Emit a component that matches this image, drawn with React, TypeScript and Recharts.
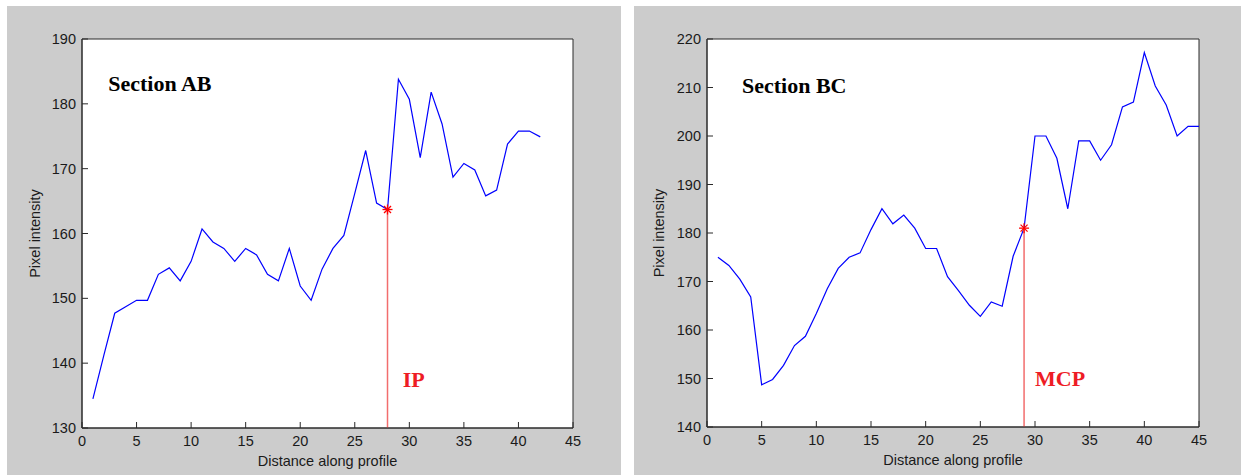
import React from 'react';
import { LineChart, Line, XAxis, YAxis, ReferenceDot, ReferenceArea, CartesianGrid } from 'recharts';

// ---- data -------------------------------------------------------------
const abDistance = [
  1, 2, 3, 4, 5, 6, 7, 8, 9, 10, 11, 12, 13, 14, 15, 16, 17, 18, 19, 20, 21,
  22, 23, 24, 25, 26, 27, 28, 29, 30, 31, 32, 33, 34, 35, 36, 37, 38, 39, 40, 41, 42,
];
const abIntensity = [
  134.5, 141.2, 147.7, 148.7, 149.7, 149.7, 153.7, 154.7, 152.7, 155.7, 160.7,
  158.7, 157.7, 155.7, 157.7, 156.7, 153.7, 152.7, 157.7, 151.9, 149.7, 154.5,
  157.7, 159.7, 166.2, 172.8, 164.7, 163.7, 183.8, 180.7, 171.7, 181.8, 176.9,
  168.7, 170.8, 169.8, 165.8, 166.7, 173.8, 175.8, 175.8, 174.9,
];

const bcDistance = [
  1, 2, 3, 4, 5, 6, 7, 8, 9, 10, 11, 12, 13, 14, 15, 16, 17, 18, 19, 20, 21,
  22, 23, 24, 25, 26, 27, 28, 29, 30, 31, 32, 33, 34, 35, 36, 37, 38, 39, 40,
  41, 42, 43, 44, 45,
];
const bcIntensity = [
  175.0, 173.3, 170.5, 166.8, 148.7, 149.8, 152.7, 156.8, 158.7, 163.4, 168.5,
  172.7, 175.0, 175.9, 180.7, 185.0, 181.9, 183.7, 181.0, 176.8, 176.8, 171.0,
  168.1, 165.1, 162.8, 165.8, 164.9, 175.2, 181.0, 200.0, 200.0, 195.4, 185.0,
  199.0, 199.0, 195.0, 198.2, 206.0, 207.0, 217.2, 210.3, 206.4, 200.0, 202.0, 202.0,
];

const xTicks = [0, 5, 10, 15, 20, 25, 30, 35, 40, 45];
const abYTicks = [130, 140, 150, 160, 170, 180, 190];
const bcYTicks = [140, 150, 160, 170, 180, 190, 200, 210, 220];

const xTitle = 'Distance along profile';
const yTitle = 'Pixel intensity';

// ---- styling ----------------------------------------------------------
const SANS = "'Liberation Sans', Arial, sans-serif";
const SERIF = "'Liberation Serif', 'Times New Roman', serif";
const AXIS = '#2a2a2a';
const TEXT = '#1a1a1a';
const TICK_LEN = 6;
const FONT = 14.5;

const BottomTick = ({ x, y, payload }: any) => (
  <g>
    <line x1={x} y1={y} x2={x} y2={y - TICK_LEN} stroke={AXIS} />
    <text x={x} y={y + 18} textAnchor="middle" fontFamily={SANS} fontSize={FONT} fill={TEXT}>
      {payload.value}
    </text>
  </g>
);

const TopTick = ({ x, y }: any) => (
  <line x1={x} y1={y} x2={x} y2={y + TICK_LEN} stroke={AXIS} />
);

const LeftTick = ({ x, y, payload }: any) => (
  <g>
    <line x1={x} y1={y} x2={x + TICK_LEN} y2={y} stroke={AXIS} />
    <text x={x - 6} y={y + 5} textAnchor="end" fontFamily={SANS} fontSize={FONT} fill={TEXT}>
      {payload.value}
    </text>
  </g>
);

const RightTick = ({ x, y }: any) => (
  <line x1={x} y1={y} x2={x - TICK_LEN} y2={y} stroke={AXIS} />
);

// MATLAB-style '*' marker
const Asterisk = ({ cx, cy }: { cx: number; cy: number }) => (
  <g stroke="#ff0000" strokeWidth={1.3}>
    <line x1={cx - 5} y1={cy} x2={cx + 5} y2={cy} />
    <line x1={cx} y1={cy - 5} x2={cx} y2={cy + 5} />
    <line x1={cx - 3.5} y1={cy - 3.5} x2={cx + 3.5} y2={cy + 3.5} />
    <line x1={cx - 3.5} y1={cy + 3.5} x2={cx + 3.5} y2={cy - 3.5} />
  </g>
);

type PanelProps = {
  left: number;
  width: number;
  yAxisWidth: number;
  rightMargin: number;
  xAxisHeight: number;
  yTitleX: number;
  distance: number[];
  intensity: number[];
  yDomain: [number, number];
  yTicks: number[];
  markAt: number;
  title: string;
  titleAt: [number, number];
  markLabel: string;
  markLabelAt: [number, number];
};

function ProfilePanel(p: PanelProps) {
  const rows = p.distance.map((d, i) => ({ d, v: p.intensity[i] }));
  const markValue = p.intensity[p.distance.indexOf(p.markAt)];
  const stem = [
    { d: p.markAt, v: p.yDomain[0] },
    { d: p.markAt, v: markValue },
  ];
  const height = 469;

  return (
    <div
      style={{
        position: 'absolute',
        left: p.left,
        top: 6,
        width: p.width,
        height,
        background: '#cccccc',
      }}
    >
      <LineChart
        width={p.width}
        height={height}
        data={rows}
        margin={{ top: 33, right: p.rightMargin, bottom: 0, left: 0 }}
      >
        {/* white axes area */}
        <CartesianGrid horizontal={false} vertical={false} fill="#ffffff" fillOpacity={1} />
        <XAxis
          dataKey="d"
          type="number"
          domain={[0, 45]}
          ticks={xTicks}
          interval={0}
          height={p.xAxisHeight}
          tickSize={0}
          tickMargin={0}
          tickLine={false}
          axisLine={{ stroke: AXIS }}
          tick={(t: any) => <BottomTick {...t} />}
          label={{
            content: (l: any) => {
              const vb = l.viewBox || {};
              return (
                <text
                  x={vb.x + vb.width / 2}
                  y={vb.y + 38}
                  textAnchor="middle"
                  fontFamily={SANS}
                  fontSize={FONT}
                  fill={TEXT}
                >
                  {xTitle}
                </text>
              );
            },
          }}
        />
        <XAxis
          xAxisId="top"
          orientation="top"
          dataKey="d"
          type="number"
          domain={[0, 45]}
          ticks={xTicks}
          interval={0}
          height={0}
          tickSize={0}
          tickMargin={0}
          tickLine={false}
          axisLine={false}
          tick={(t: any) => <TopTick {...t} />}
        />
        <YAxis
          type="number"
          domain={p.yDomain}
          ticks={p.yTicks}
          interval={0}
          width={p.yAxisWidth}
          tickSize={0}
          tickMargin={0}
          tickLine={false}
          axisLine={{ stroke: AXIS }}
          tick={(t: any) => <LeftTick {...t} />}
          label={{
            content: (l: any) => {
              const vb = l.viewBox || {};
              const cy = vb.y + vb.height / 2;
              return (
                <text
                  x={p.yTitleX}
                  y={cy}
                  transform={`rotate(-90, ${p.yTitleX}, ${cy})`}
                  textAnchor="middle"
                  fontFamily={SANS}
                  fontSize={FONT}
                  fill={TEXT}
                >
                  {yTitle}
                </text>
              );
            },
          }}
        />
        <YAxis
          yAxisId="right"
          orientation="right"
          type="number"
          domain={p.yDomain}
          ticks={p.yTicks}
          interval={0}
          width={0}
          tickSize={0}
          tickMargin={0}
          tickLine={false}
          axisLine={false}
          tick={(t: any) => <RightTick {...t} />}
        />
        {/* axes box */}
        <ReferenceArea
          x1={0}
          x2={45}
          y1={p.yDomain[0]}
          y2={p.yDomain[1]}
          fill="none"
          fillOpacity={0}
          stroke={AXIS}
          strokeWidth={1}
          ifOverflow="visible"
        />
        <Line
          dataKey="v"
          stroke="#0000ff"
          strokeWidth={1.2}
          dot={false}
          activeDot={false}
          isAnimationActive={false}
        />
        <Line
          data={stem}
          dataKey="v"
          stroke="#f26d6d"
          strokeWidth={1.5}
          isAnimationActive={false}
          activeDot={false}
          dot={(d: any) =>
            d.index === 1 ? (
              <Asterisk key={`mk-${d.index}`} cx={d.cx} cy={d.cy} />
            ) : (
              <g key={`mk-${d.index}`} />
            )
          }
        />
        <ReferenceDot
          x={p.titleAt[0]}
          y={p.titleAt[1]}
          r={0}
          ifOverflow="visible"
          shape={(s: any) => (
            <text
              x={s.cx}
              y={s.cy}
              fontFamily={SERIF}
              fontWeight="bold"
              fontSize={22}
              fill="#000000"
            >
              {p.title}
            </text>
          )}
        />
        <ReferenceDot
          x={p.markLabelAt[0]}
          y={p.markLabelAt[1]}
          r={0}
          ifOverflow="visible"
          shape={(s: any) => (
            <text
              x={s.cx}
              y={s.cy}
              fontFamily={SERIF}
              fontWeight="bold"
              fontSize={22}
              fill="#ee1c25"
            >
              {p.markLabel}
            </text>
          )}
        />
      </LineChart>
    </div>
  );
}

export default function App() {
  return (
    <div
      style={{
        position: 'absolute',
        left: 0,
        top: 0,
        width: 1241,
        height: 475,
        background: '#ffffff',
        overflow: 'hidden',
      }}
    >
      <ProfilePanel
        left={7}
        width={614}
        yAxisWidth={75}
        rightMargin={48}
        xAxisHeight={47}
        yTitleX={32.5}
        distance={abDistance}
        intensity={abIntensity}
        yDomain={[130, 190]}
        yTicks={abYTicks}
        markAt={28}
        title="Section AB"
        titleAt={[2.4, 182.0]}
        markLabel="IP"
        markLabelAt={[29.4, 136.4]}
      />
      <ProfilePanel
        left={634}
        width={607}
        yAxisWidth={73}
        rightMargin={42}
        xAxisHeight={48}
        yTitleX={29.5}
        distance={bcDistance}
        intensity={bcIntensity}
        yDomain={[140, 220]}
        yTicks={bcYTicks}
        markAt={29}
        title="Section BC"
        titleAt={[3.2, 208.8]}
        markLabel="MCP"
        markLabelAt={[30.0, 148.5]}
      />
    </div>
  );
}
